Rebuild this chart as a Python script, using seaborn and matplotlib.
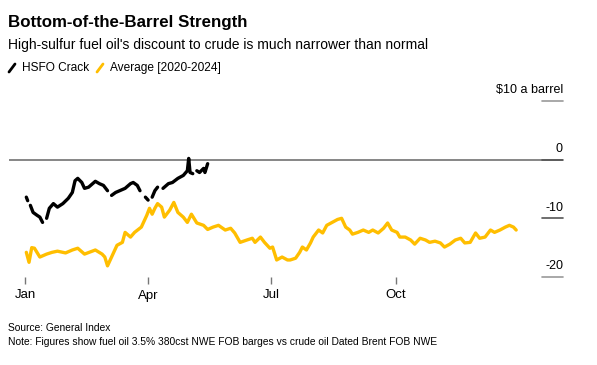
import matplotlib
matplotlib.use("Agg")
import matplotlib.pyplot as plt
from matplotlib.lines import Line2D
import seaborn as sns
import numpy as np
import pandas as pd

# HSFO crack, $/bbl, day offsets from Jan 1 (NaN = missing data, shown as gap)
hsfo_days = [1, 2, 3, 4, 6, 9, 11, 13, 15, 16, 18, 21, 24, 28, 32, 35, 37, 39, 42, 44, 47,
             50, 52, 55, 58, 61, 62, 64, 67, 70, 74, 78, 80, 83, 85, 87, 89, 91, 93, 94,
             96, 98, 100, 102, 106, 109, 113, 117, 120, 121, 122, 124, 125, 127, 129,
             132, 133, 135]
hsfo_vals = [-6.4, -7.0, np.nan, -7.8, -9.0, -9.5, -9.8, -10.7, np.nan, -10.0, -8.3, -7.5,
             -8.1, -7.5, -6.6, -5.6, -3.6, -3.2, -3.9, -4.9, -4.7,
             -4.1, -3.7, -4.1, -4.4, -5.3, np.nan, -6.1, -5.6, -5.3, -4.9, -4.1, -3.9, -4.4,
             -5.3, np.nan, -6.4, -6.9, np.nan, -6.4,
             -5.3, -4.7, np.nan, -4.9, -4.1, -3.9, -3.2, -2.7, -1.9, 0.2, -2.2, -2.4, np.nan,
             -1.9, -2.2, -1.5, -2.2, -0.7]

# 2020-2024 average, $/bbl
avg_days = [1, 3, 5, 7, 11, 16, 20, 24, 30, 35, 39, 44, 52, 57, 59, 61, 64, 68, 72, 74, 78,
            81, 86, 90, 92, 94, 96, 98, 101, 103, 107, 110, 113, 117, 120, 123, 127, 132,
            135, 139, 143, 148, 152, 155, 159, 164, 168, 170, 174, 177, 181, 183, 186, 190,
            194, 196, 200, 203, 205, 208, 211, 213, 217, 220, 223, 227, 231, 234, 237, 240,
            242, 246, 250, 254, 257, 261, 265, 268, 271, 275, 277, 281, 285, 288, 292, 296,
            299, 303, 307, 310, 314, 318, 322, 325, 329, 333, 336, 340, 344, 347, 351, 355,
            358, 361, 363]
avg_vals = [-15.8, -17.5, -15.0, -15.1, -16.6, -16.1, -15.8, -15.6, -15.9, -15.4, -15.1,
            -16.1, -15.4, -16.1, -16.6, -18.1, -16.6, -14.6, -14.1, -12.4, -13.2,
            -12.4, -11.5, -9.5, -8.3, -9.3, -8.3, -7.5, -8.1, -9.8, -8.6, -7.3, -9.0, -9.8,
            -10.7, -9.3, -10.8, -11.2,
            -11.9, -11.5, -11.2, -12.0, -11.7, -12.5, -14.1, -13.7, -13.4, -14.1, -13.2,
            -14.1, -15.1, -14.9, -17.1, -16.6,
            -17.1, -17.1, -16.8, -15.8, -14.9, -15.4, -14.2, -13.2, -12.0, -12.5, -11.2,
            -10.7, -10.2, -10.0, -11.5, -12.0,
            -12.7, -12.4, -12.0, -12.4, -12.0, -12.5, -11.7, -10.8, -12.0, -12.4, -13.2,
            -13.2, -13.7, -14.4, -13.4, -13.7,
            -14.1, -13.9, -14.2, -14.9, -14.4, -13.7, -13.4, -14.2, -14.1, -12.5, -13.4,
            -13.2, -12.0, -12.4, -12.0, -11.5,
            -11.2, -11.5, -12.0]

y_ticks = [10, 0, -10, -20]
y_labels = ["$10 a barrel", "0", "-10", "-20"]
month_ticks = ["2024-01-01", "2024-04-01", "2024-07-01", "2024-10-01"]
month_labels = ["Jan", "Apr", "Jul", "Oct"]

base = pd.Timestamp("2024-01-01")
hsfo = pd.DataFrame({"date": base + pd.to_timedelta(hsfo_days, unit="D"), "val": hsfo_vals})
# split at missing values so the gaps show
hsfo["seg"] = hsfo["val"].isna().cumsum()
hsfo = hsfo.dropna()
avg = pd.DataFrame({"date": base + pd.to_timedelta(avg_days, unit="D"), "val": avg_vals})

sns.set_style("white")
plt.rcParams["font.family"] = ["Liberation Sans", "DejaVu Sans"]
plt.rcParams["text.color"] = "black"
plt.rcParams["xtick.color"] = "black"

BLACK = "#000000"
YELLOW = "#FFBE00"

fig = plt.figure(figsize=(5.97, 3.65), dpi=100)
ax = fig.add_axes([9 / 597, 1 - 277 / 365, (563 - 9) / 597, (277 - 95) / 365])

sns.lineplot(data=avg, x="date", y="val", ax=ax, color=YELLOW, lw=2.4,
             estimator=None, sort=False)
sns.lineplot(data=hsfo, x="date", y="val", units="seg", ax=ax, color=BLACK, lw=2.4,
             estimator=None, sort=False)

ax.set_xlim(base - pd.Timedelta(days=11.8), base + pd.Timedelta(days=397.6))
ax.set_ylim(-20, 11.0)
for s in ax.spines.values():
    s.set_visible(False)
ax.set_xlabel("")
ax.set_ylabel("")

# zero line across, short tick lines under right-hand labels
ax.axhline(0, color="#666666", lw=1.1, zorder=0)
for v, lab in zip(y_ticks, y_labels):
    ax.axhline(v, xmin=0.962, xmax=1.0, color="#555555" if v in (0, -10) else "#999999",
               lw=1.2, clip_on=False)
    ax.text(1.0, v + 0.8, lab, transform=ax.get_yaxis_transform(), ha="right", va="bottom",
            fontsize=9, clip_on=False)
ax.set_yticks([])

ax.set_xticks(pd.to_datetime(month_ticks))
ax.set_xticklabels(month_labels, fontsize=9.5)
ax.tick_params(axis="x", length=5, width=1, color="#777777", labelcolor="black",
               pad=4, bottom=True)

fig.text(8 / 597, 1 - 22 / 365, "Bottom-of-the-Barrel Strength", fontsize=12.2,
         fontweight="bold", va="center")
fig.text(8 / 597, 1 - 45 / 365,
         "High-sulfur fuel oil's discount to crude is much narrower than normal",
         fontsize=10, va="center")

# legend
for x0, col, txt in [(9, BLACK, "HSFO Crack"), (97, YELLOW, "Average [2020-2024]")]:
    fig.add_artist(Line2D([x0 / 597, (x0 + 6) / 597], [1 - 72 / 365, 1 - 64 / 365],
                          color=col, lw=2))
    fig.text((x0 + 13) / 597, 1 - 68 / 365, txt, fontsize=8.6, va="center")

fig.text(8 / 597, 1 - 328 / 365, "Source: General Index", fontsize=7.4, va="center")
fig.text(8 / 597, 1 - 342 / 365,
         "Note: Figures show fuel oil 3.5% 380cst NWE FOB barges vs crude oil Dated Brent FOB NWE",
         fontsize=7.4, va="center")

fig.savefig("out.png", dpi=100)
